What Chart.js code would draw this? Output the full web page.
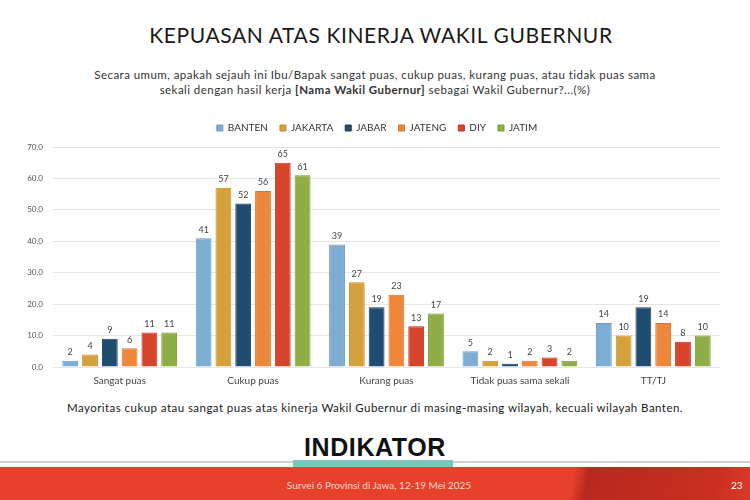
<!DOCTYPE html>
<html>
<head>
<meta charset="utf-8">
<script src="https://cdn.jsdelivr.net/npm/chart.js@4.4.1/dist/chart.umd.min.js"></script>
<style>
  html,body{margin:0;padding:0;background:#fff;}
  #page{position:relative;width:750px;height:500px;overflow:hidden;background:#fff;font-family:"Lato","Noto Sans",sans-serif;}
  .abs{position:absolute;left:0;width:750px;text-align:center;}
  #title{top:22px;left:6px;font-size:21px;color:#1a1a1a;letter-spacing:0.6px;font-weight:400;}
  #sub{top:67px;font-size:11.5px;letter-spacing:0.45px;line-height:15px;color:#333;}
  #note{top:401px;font-size:11.5px;letter-spacing:0.45px;color:#222;}
  #chartwrap{position:absolute;left:0;top:111px;width:750px;height:276px;}
  #logo{top:433px;font-size:25px;font-weight:900;color:#111;letter-spacing:0.6px;font-family:"Liberation Sans","Arial",sans-serif;}
  #teal{position:absolute;left:293px;top:460px;width:160px;height:7px;background:#7cc6bf;}
  #grey{position:absolute;left:0;top:461px;width:750px;height:2px;background:#cfcfcf;}
  #band{position:absolute;left:0;top:467px;width:750px;height:33px;background:linear-gradient(100deg,#e8412b 0%,#e8412b 76%,#b9281f 78%,#c9301f 95%,#d93a27 100%);}
  #foot{top:479px;left:4px;font-size:10px;color:#f8d6cc;}
  #pg{position:absolute;left:731px;top:479px;font-size:10px;color:#fff;}
</style>
</head>
<body>
<div id="page">
  <div id="title" class="abs">KEPUASAN ATAS KINERJA WAKIL GUBERNUR</div>
  <div id="sub" class="abs">Secara umum, apakah sejauh ini Ibu/Bapak sangat puas, cukup puas, kurang puas, atau tidak puas sama<br>sekali dengan hasil kerja <b>[Nama Wakil Gubernur]</b> sebagai Wakil Gubernur?...(%)</div>
  <div id="chartwrap"><canvas id="c" width="750" height="276"></canvas></div>
  <div id="note" class="abs">Mayoritas cukup atau sangat puas atas kinerja Wakil Gubernur di masing-masing wilayah, kecuali wilayah Banten.</div>
  <div id="grey"></div>
  <div id="band"></div>
  <div id="teal"></div>
  <div id="logo" class="abs">INDIKATOR</div>
  <div id="foot" class="abs">Survei 6 Provinsi di Jawa, 12-19 Mei 2025</div>
  <div id="pg">23</div>
</div>
<script>
const categories = ["Sangat puas", "Cukup puas", "Kurang puas", "Tidak puas sama sekali", "TT/TJ"];
const seriesNames = ["BANTEN", "JAKARTA", "JABAR", "JATENG", "DIY", "JATIM"];
const banten  = [2, 41, 39, 5, 14];
const jakarta = [4, 57, 27, 2, 10];
const jabar   = [9, 52, 19, 1, 19];
const jateng  = [6, 56, 23, 2, 14];
const diy     = [11, 65, 13, 3, 8];
const jatim   = [11, 61, 17, 2, 10];
const yTicks  = [0, 10, 20, 30, 40, 50, 60, 70];

const seriesValues = [banten, jakarta, jabar, jateng, diy, jatim];
const colors = ["#7eadd3", "#d5a13a", "#1f4d72", "#ef873a", "#d8432c", "#8fae45"];
const borders = ["#6b9cc3", "#c08e2c", "#173d5c", "#db7428", "#c23522", "#7c9a36"];

const labelPlugin = {
  id: "barLabels",
  beforeLayout(chart) {
    const lg = chart.legend;
    if (lg && !lg._patched) {
      const origFit = lg.fit;
      lg.fit = function () { origFit.call(this); this.height += 4; };
      lg._patched = true;
    }
  },
  afterLayout(chart) {
    const lg = chart.legend;
    if (lg) { lg.left += 17; lg.right += 17; }
  },
  afterDatasetsDraw(chart) {
    const ctx = chart.ctx;
    ctx.save();
    ctx.font = "9px Lato, 'Noto Sans', sans-serif";
    ctx.fillStyle = "#444";
    ctx.textAlign = "center";
    ctx.textBaseline = "bottom";
    chart.data.datasets.forEach((ds, i) => {
      const meta = chart.getDatasetMeta(i);
      meta.data.forEach((bar, j) => {
        ctx.fillText(String(ds.data[j]), bar.x, bar.y - 4);
      });
    });
    ctx.restore();
  }
};

new Chart(document.getElementById("c"), {
  type: "bar",
  data: {
    labels: categories,
    datasets: seriesNames.map((n, i) => ({
      label: n,
      data: seriesValues[i],
      backgroundColor: colors[i],
      borderColor: borders[i],
      borderWidth: 1,
      categoryPercentage: 0.89,
      barPercentage: 0.8
    }))
  },
  options: {
    responsive: false,
    animation: false,
    devicePixelRatio: 1,
    layout: { padding: { left: 0, right: 30, top: 0, bottom: 0 } },
    plugins: {
      legend: {
        position: "top",
        labels: {
          boxWidth: 6, boxHeight: 6, padding: 12,
          color: "#333",
          font: { size: 10, family: "Lato, 'Noto Sans', sans-serif" }
        }
      },
      tooltip: { enabled: false }
    },
    scales: {
      x: {
        afterFit(scale) { scale.height = 20; },
        grid: { display: false },
        border: { display: false },
        ticks: { color: "#444", font: { size: 10, family: "Lato, 'Noto Sans', sans-serif" }, padding: 0 }
      },
      y: {
        min: 0, max: 70,
        afterFit(scale) { scale.width = 53; },
        afterBuildTicks(scale) { scale.ticks = yTicks.map(v => ({ value: v })); },
        grid: { color: "#e6e6e6", drawTicks: false },
        border: { display: false },
        ticks: {
          color: "#555", padding: 10,
          font: { size: 8, family: "Lato, 'Noto Sans', sans-serif" },
          callback: v => Number(v).toFixed(1)
        }
      }
    }
  },
  plugins: [labelPlugin]
});
</script>
</body>
</html>
